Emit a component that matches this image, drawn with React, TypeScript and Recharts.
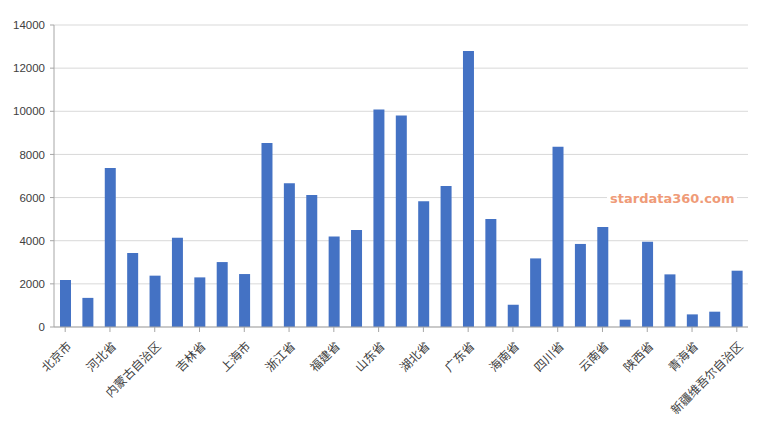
import { Bar, BarChart, CartesianGrid, XAxis, YAxis } from "recharts";

const provinces = [
    "北京市", "天津市", "河北省", "山西省", "内蒙古自治区", "辽宁省", "吉林省", "黑龙江省",
    "上海市", "江苏省", "浙江省", "安徽省", "福建省", "江西省", "山东省", "河南省",
    "湖北省", "湖南省", "广东省", "广西壮族自治区", "海南省", "重庆市", "四川省", "贵州省",
    "云南省", "西藏自治区", "陕西省", "甘肃省", "青海省", "宁夏回族自治区", "新疆维吾尔自治区",
];

const values = [
    2180, 1350, 7370, 3430, 2380, 4140, 2300, 3010,
    2455, 8530, 6660, 6120, 4190, 4500, 10080, 9800,
    5830, 6540, 12800, 5010, 1035, 3180, 8360, 3850,
    4635, 340, 3955, 2440, 585, 710, 2610,
];

const yTicks = [0, 2000, 4000, 6000, 8000, 10000, 12000, 14000];

const data = provinces.map((name, i) => ({ name, value: values[i] }));

const font = '"Liberation Sans", "Noto Sans CJK SC", sans-serif';

// rotated category label, anchored at its end just right of the tick
function AngledTick({ x, y, payload }: any) {
    return (
        <g transform={`translate(${x},${y})`}>
            <text
                x={7}
                y={13}
                transform="rotate(-45, 7, 13)"
                textAnchor="end"
                fill="#404040"
                fontSize={12}
                fontFamily={font}
            >
                {payload.value}
            </text>
        </g>
    );
}

export default function App() {
    return (
        <div style={{ position: "absolute", left: 0, top: 0, width: 766, height: 435, background: "#fff" }}>
            <BarChart
                width={766}
                height={435}
                data={data}
                margin={{ top: 25, right: 18, left: 0, bottom: 0 }}
                barSize={11}
            >
                <CartesianGrid vertical={false} stroke="#d9d9d9" />
                <XAxis
                    dataKey="name"
                    interval={1}
                    height={108}
                    stroke="#a6a6a6"
                    tickSize={5}
                    tickMargin={2}
                    tick={<AngledTick />}
                />
                <YAxis
                    width={54}
                    domain={[0, 14000]}
                    ticks={yTicks}
                    stroke="#a6a6a6"
                    tickSize={4}
                    tickMargin={5}
                    tick={{ fill: "#404040", fontSize: 11.5, fontFamily: font }}
                />
                <Bar dataKey="value" fill="#4472c4" isAnimationActive={false} />
            </BarChart>
            <div
                style={{
                    position: "absolute",
                    left: 607,
                    top: 190,
                    padding: "0 3px",
                    background: "#fff",
                    color: "#ef9b78",
                    fontFamily: '"DejaVu Sans", sans-serif',
                    fontWeight: "bold",
                    fontSize: 13,
                    lineHeight: "18px",
                }}
            >
                stardata360.com
            </div>
        </div>
    );
}
